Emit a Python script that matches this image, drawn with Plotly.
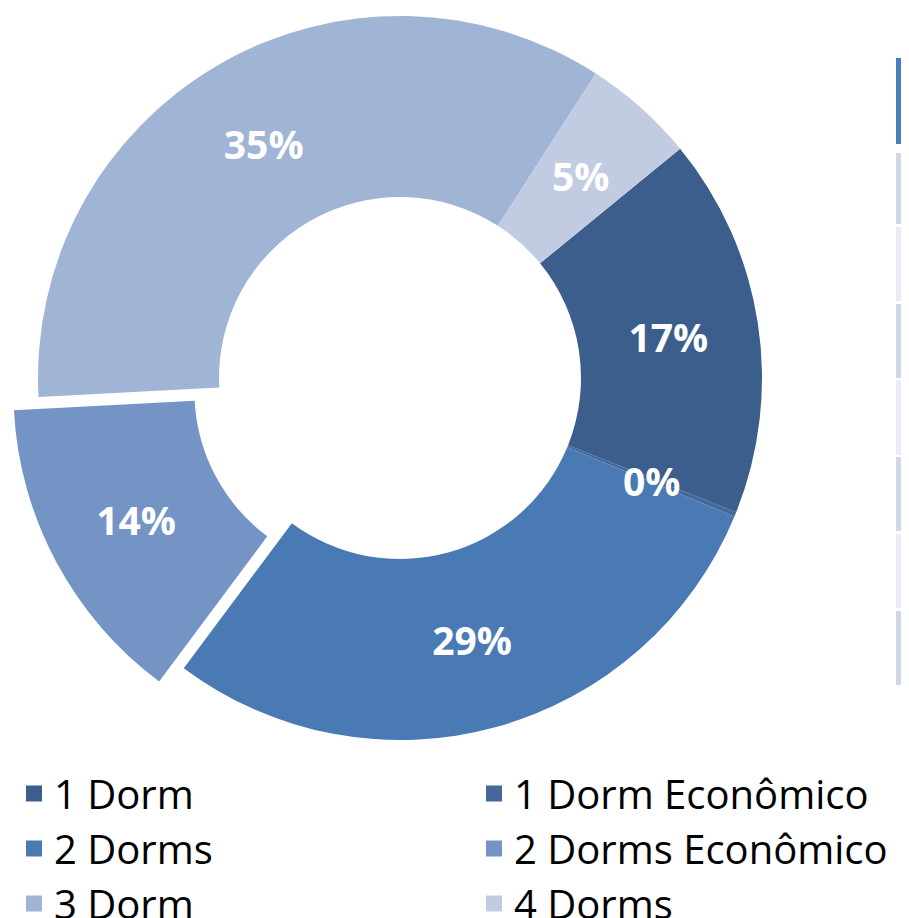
import math
import plotly.graph_objects as go

# ---------------- data ----------------
labels = ["1 Dorm", "1 Dorm Econômico", "2 Dorms", "2 Dorms Econômico", "3 Dorm", "4 Dorms"]
values = [17, 0.2, 29, 14, 35, 5]
colors = ["#3b5e8c", "#43699c", "#4a7ab4", "#7394c5", "#a0b4d6", "#c1cce2"]
pulled_label = "2 Dorms Econômico"
small_labels = ["1 Dorm Econômico", "4 Dorms"]   # labels placed at the ring's mid radius

# ---------------- layout constants ----------------
OFF = 8                         # default page margin of the html body
W, H = 960, 910                 # figure size (window is 909 x 918)
CX, CY, R = 400 - OFF, 378 - OFF, 362   # donut centre / outer radius (figure px)
HOLE = 0.5
PULL = 0.077                    # pull as fraction of radius
ROTATION = 50.7
FONT = "Open Sans"

total = sum(values)
pi = labels.index(pulled_label)
start = ROTATION + 360 * sum(values[:pi]) / total
mid = math.radians(start + 180 * values[pi] / total)
pcx = CX + R * PULL * math.sin(mid)
pcy = CY - R * PULL * math.cos(mid)


def domain(cx, cy):
    return dict(x=[(cx - R) / W, (cx + R) / W], y=[1 - (cy + R) / H, 1 - (cy - R) / H])


tmpl = "%{percent:.0%}"
main_colors = [("rgba(0,0,0,0)" if l == pulled_label else c) for l, c in zip(labels, colors)]
pull_colors = [(c if l == pulled_label else "rgba(0,0,0,0)") for l, c in zip(labels, colors)]
main_tt = [("" if (l == pulled_label or l in small_labels) else tmpl) for l in labels]
pull_tt = [(tmpl if l == pulled_label else "") for l in labels]

textfont = dict(family=FONT, size=39, color="white", weight="bold")

fig = go.Figure()
fig.add_trace(go.Pie(
    labels=labels, values=values, sort=False, direction="clockwise",
    rotation=ROTATION, hole=HOLE, domain=domain(CX, CY),
    marker=dict(colors=main_colors, line=dict(width=0)),
    textinfo="none", texttemplate=main_tt, textposition="inside",
    insidetextorientation="horizontal", insidetextfont=textfont,
    showlegend=False, hoverinfo="label+percent",
))
fig.add_trace(go.Pie(
    labels=labels, values=values, sort=False, direction="clockwise",
    rotation=ROTATION, hole=HOLE, domain=domain(pcx, pcy),
    marker=dict(colors=pull_colors, line=dict(width=0)),
    textinfo="none", texttemplate=pull_tt, textposition="inside",
    insidetextorientation="horizontal", insidetextfont=textfont,
    showlegend=False, hoverinfo="skip",
))

# labels of the thin slices: centred on the ring's mid radius, at the slice's mid angle
annotations = []
rmid = R * (1 + HOLE) / 2
cum = 0
for lab, v in zip(labels, values):
    a = math.radians(ROTATION + 360 * (cum + v / 2) / total)
    cum += v
    if lab in small_labels:
        x = CX + rmid * math.sin(a)
        y = CY - rmid * math.cos(a)
        annotations.append(dict(
            x=x / W, y=1 - y / H, xref="paper", yref="paper", showarrow=False,
            text=f"{round(100 * v / total)}%", font=textfont, xanchor="center", yanchor="middle",
        ))

for lab, col in zip(labels, colors):
    fig.add_trace(go.Scatter(
        x=[None], y=[None], mode="markers", name=lab,
        marker=dict(symbol="square", size=16, color=col), showlegend=True,
    ))

# partial table on the right edge (window px)
stripe_rows = [(58, 144, "#4a7ebb"), (153, 224, "#cfd7e8"), (227, 301, "#e8ecf5"),
               (304, 378, "#cfd7e8"), (380, 455, "#e8ecf5"), (457, 531, "#cfd7e8"),
               (534, 608, "#e8ecf5"), (611, 685, "#cfd7e8")]
shapes = []
for y0, y1, c in stripe_rows:
    shapes.append(dict(type="rect", xref="paper", yref="paper",
                       x0=(896 - OFF) / W, x1=(960 - OFF) / W,
                       y0=1 - (y1 - OFF) / H, y1=1 - (y0 - OFF) / H,
                       fillcolor=c, line=dict(width=0), layer="below"))

fig.update_layout(
    width=W, height=H,
    margin=dict(l=0, r=0, t=0, b=0, autoexpand=False),
    paper_bgcolor="white", plot_bgcolor="white",
    xaxis=dict(visible=False), yaxis=dict(visible=False),
    shapes=shapes, annotations=annotations,
    legend=dict(
        orientation="h", x=(14 - OFF) / W, xanchor="left",
        y=1 - (761 - OFF) / H, yanchor="top",
        font=dict(family=FONT, size=40, color="black"),
        entrywidth=415, entrywidthmode="pixels", itemwidth=30,
        bgcolor="rgba(0,0,0,0)", tracegroupgap=0,
    ),
)

fig.write_html("out.html")
